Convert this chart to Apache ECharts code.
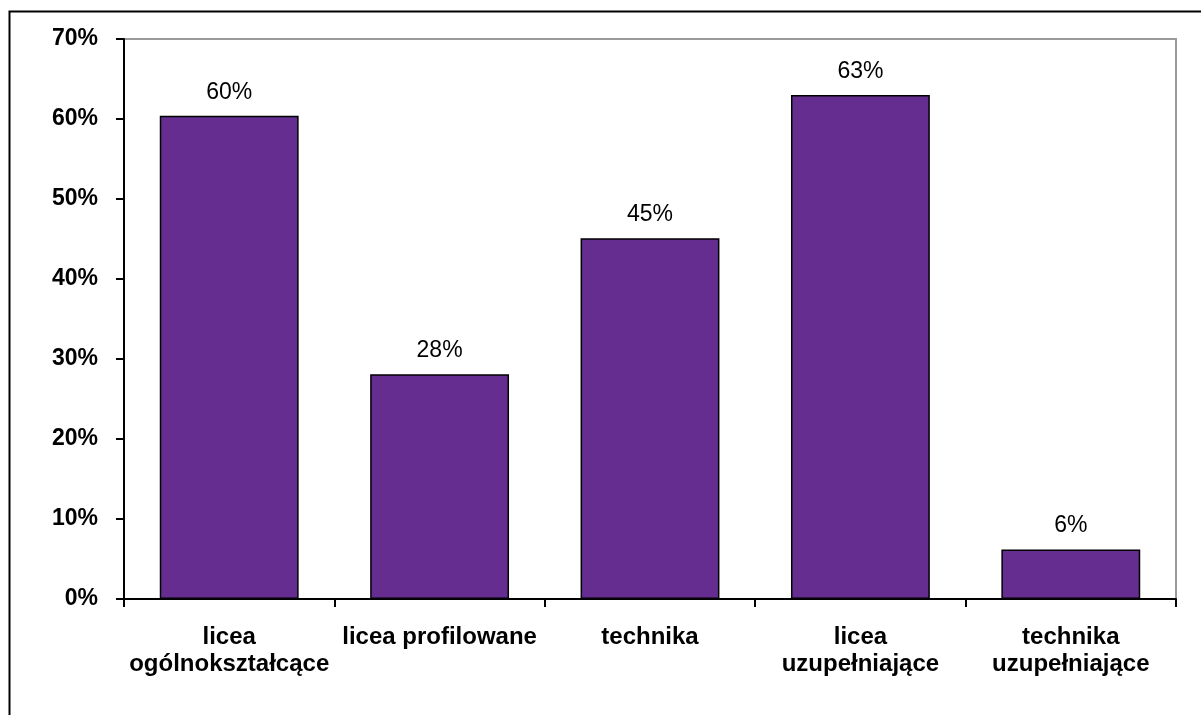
<!DOCTYPE html>
<html><head><meta charset="utf-8">
<script src="https://cdn.jsdelivr.net/npm/echarts@6/dist/echarts.min.js"></script>
<style>html,body{margin:0;padding:0;background:#fff}#c{width:1201px;height:715px}</style>
</head><body><div id="c"></div>
<script>
const categories = ['licea\nogólnokształcące', 'licea profilowane', 'technika', 'licea\nuzupełniające', 'technika\nuzupełniające'];
const values = [60.4, 28.1, 45.1, 63.0, 6.2];
const yTicks = [0, 10, 20, 30, 40, 50, 60, 70];

const chart = echarts.init(document.getElementById('c'), null, {renderer: 'canvas'});
chart.setOption({
  animation: false,
  backgroundColor: '#fff',
  graphic: [{
    type: 'rect', left: 7, top: 9, z: -1,
    shape: {width: 1205, height: 720},
    style: {fill: 'none', stroke: '#000', lineWidth: 2}
  }],
  grid: {left: 124, top: 39, right: 25, bottom: 116, show: true, borderColor: '#9a9a9a', borderWidth: 2, backgroundColor: '#fff'},
  xAxis: {
    type: 'category', data: categories,
    axisLine: {lineStyle: {color: '#000', width: 2}},
    axisTick: {show: true, length: 8, lineStyle: {color: '#000', width: 2}},
    axisLabel: {interval: 0, fontFamily: 'Liberation Sans, Arial', fontWeight: 'bold', fontSize: 24, color: '#000', lineHeight: 27, margin: 25}
  },
  yAxis: {
    type: 'value', min: yTicks[0], max: yTicks[yTicks.length - 1], interval: 10,
    splitLine: {show: false},
    axisLine: {show: true, lineStyle: {color: '#000', width: 2}},
    axisTick: {show: true, length: 8, lineStyle: {color: '#000', width: 2}},
    axisLabel: {formatter: v => v + '%', fontFamily: 'Liberation Sans, Arial', fontWeight: 'bold', fontSize: 23, color: '#000', margin: 26}
  },
  series: [{
    type: 'bar', data: values, barCategoryGap: '34%',
    itemStyle: {color: '#662D91', borderColor: '#000', borderWidth: 1.5},
    label: {show: true, position: 'top', distance: 12, formatter: p => Math.round(p.value) + '%', fontFamily: 'Liberation Sans, Arial', fontSize: 23, color: '#000'}
  }]
});
</script></body></html>
